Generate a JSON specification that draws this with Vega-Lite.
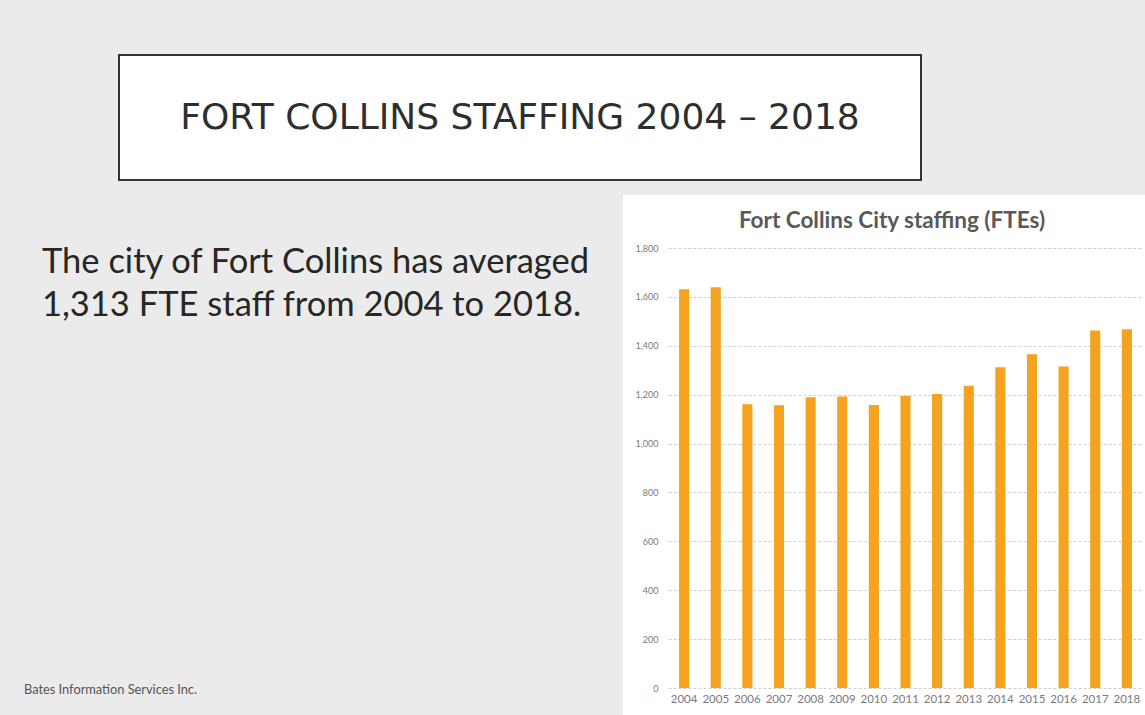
{
  "$schema": "https://vega.github.io/schema/vega-lite/v6.json",
  "background": "#ebebeb",
  "padding": {"left": 0, "top": 54, "right": 0, "bottom": 0},
  "config": {"view": {"stroke": null}, "font": "Lato"},
  "spacing": 14,
  "vconcat": [
    {
      "spacing": 0,
      "bounds": "flush",
      "hconcat": [
        {
          "width": 119,
          "height": 125,
          "data": {"values": []},
          "mark": "text",
          "encoding": {}
        },
        {
          "width": 802,
          "height": 125,
          "data": {"values": [{"heading": "FORT COLLINS STAFFING 2004 – 2018"}]},
          "mark": {"type": "text", "font": "DejaVu Sans", "fontSize": 36, "color": "#2e2e2e"},
          "encoding": {"text": {"field": "heading"}},
          "view": {"fill": "white", "stroke": "#333333", "strokeWidth": 2}
        }
      ]
    },
    {
      "spacing": 0,
      "bounds": "flush",
      "hconcat": [
        {
          "width": 623,
          "height": 520,
          "data": {"values": [{"body": "The city of Fort Collins has averaged\n1,313 FTE staff from 2004 to 2018.", "credit": "Bates Information Services Inc."}]},
          "layer": [
            {
              "mark": {"type": "text", "align": "left", "baseline": "alphabetic", "lineBreak": "\n", "lineHeight": 43, "fontSize": 34.5, "font": "Lato", "color": "#262626", "dx": 42, "dy": 78},
              "encoding": {
                "x": {"datum": 0, "type": "quantitative", "scale": {"domain": [0, 1]}, "axis": null},
                "y": {"datum": 1, "type": "quantitative", "scale": {"domain": [0, 1]}, "axis": null},
                "text": {"field": "body"}
              }
            },
            {
              "mark": {"type": "text", "align": "left", "baseline": "middle", "fontSize": 12.8, "font": "Lato", "color": "#555555", "dx": 24, "dy": -25},
              "encoding": {
                "x": {"datum": 0, "type": "quantitative", "scale": {"domain": [0, 1]}, "axis": null},
                "y": {"datum": 0, "type": "quantitative", "scale": {"domain": [0, 1]}, "axis": null},
                "text": {"field": "credit"}
              }
            }
          ]
        },
        {
          "width": 522,
          "height": 520,
          "data": {"values": [
            {"year": "2004", "fte": 1631},
            {"year": "2005", "fte": 1639},
            {"year": "2006", "fte": 1161},
            {"year": "2007", "fte": 1157},
            {"year": "2008", "fte": 1189},
            {"year": "2009", "fte": 1192},
            {"year": "2010", "fte": 1158},
            {"year": "2011", "fte": 1195},
            {"year": "2012", "fte": 1203},
            {"year": "2013", "fte": 1236},
            {"year": "2014", "fte": 1312},
            {"year": "2015", "fte": 1365},
            {"year": "2016", "fte": 1315},
            {"year": "2017", "fte": 1462},
            {"year": "2018", "fte": 1468}
          ]},
          "title": {"text": "Fort Collins City staffing (FTEs)", "frame": "group", "anchor": "middle", "offset": -37, "dx": 8, "fontSize": 22.5, "fontWeight": "bold", "color": "#595959", "font": "Lato"},
          "mark": {"type": "bar", "color": "#f4a21f"},
          "encoding": {
            "x": {
              "field": "year", "type": "ordinal",
              "scale": {"range": [45, 520], "paddingInner": 0.68, "paddingOuter": 0.35},
              "axis": {"title": null, "offset": -27, "domain": false, "ticks": false, "labelAngle": 0, "labelPadding": 5, "labelFontSize": 11.5, "labelColor": "#7a7a7a", "labelFont": "Lato", "grid": false}
            },
            "y": {
              "field": "fte", "type": "quantitative",
              "scale": {"domain": [0, 1800], "range": [493, 53], "nice": false},
              "axis": {"title": null, "offset": -45, "domain": false, "ticks": false, "values": [0, 200, 400, 600, 800, 1000, 1200, 1400, 1600, 1800], "format": ",d", "labelPadding": 10, "labelFontSize": 9, "labelColor": "#7a7a7a", "labelFont": "Lato", "grid": true, "gridDash": [3, 2], "gridColor": "#cfcfcf"}
            }
          },
          "view": {"fill": "white"}
        }
      ]
    }
  ]
}
